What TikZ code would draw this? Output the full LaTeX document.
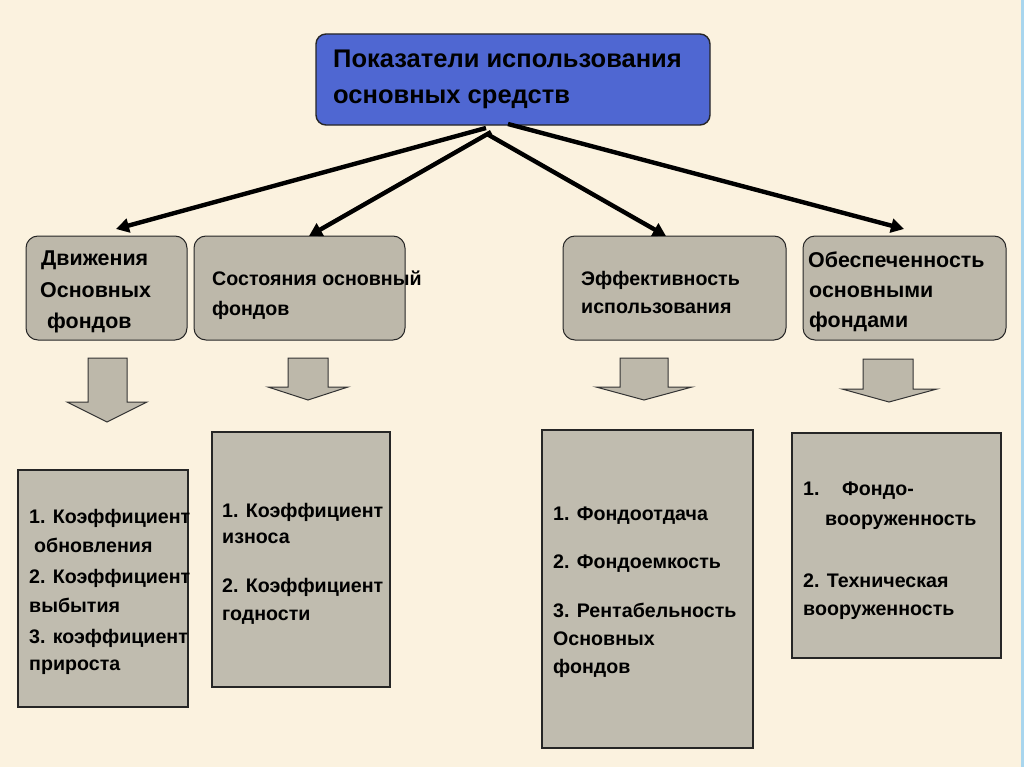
\documentclass[tikz,border=0pt]{standalone}
\usepackage{fontspec}
\setmainfont{Liberation Sans}
\usetikzlibrary{arrows.meta}
\definecolor{bgc}{HTML}{FBF2DF}
\definecolor{topblue}{HTML}{4F67D2}
\definecolor{boxgray}{HTML}{BDB8AA}
\definecolor{lowgray}{HTML}{C0BCAF}
\definecolor{edgeblue}{HTML}{A9D6EE}
\tikzset{
  rbox/.style={draw=black!85, line width=1bp, rounded corners=12bp, fill=boxgray},
  lbox/.style={draw=black!85, line width=1.4bp, fill=lowgray},
  tbox/.style={draw=black!85, line width=1.4bp, rounded corners=10bp, fill=topblue},
  conn/.style={line width=4.4bp, black, -{Triangle[length=13bp,width=14bp]}},
  blockarrow/.style={draw=black!80, line width=1bp, fill=boxgray},
  t/.style={anchor=base west, inner sep=0pt, font=\fontsize{19.7}{22}\selectfont\bfseries},
  tm/.style={anchor=base west, inner sep=0pt, font=\fontsize{21.5}{24}\selectfont\bfseries},
  tt/.style={anchor=base west, inner sep=0pt, font=\fontsize{25.6}{28}\selectfont\bfseries}
}
\begin{document}
\begin{tikzpicture}[x=1bp,y=-1bp]
\fill[bgc] (0,0) rectangle (1024,767);
\fill[edgeblue] (1021,0) rectangle (1024,767);
\useasboundingbox (0,0) rectangle (1024,767);

% top box
\draw[tbox] (316,34) rectangle (710,125);
\node[tt] (tl1) at (333,68) {Показатели использования};
\node[tt] (tl2) at (333,103) {основных средств};

% second row boxes
\draw[rbox] (26,236) rectangle (187,340);
\draw[rbox] (194,236) rectangle (405,340);
\draw[rbox] (563,236) rectangle (786,340);
\draw[rbox] (803,236) rectangle (1006,340);

\node[tm] (d1) at (41,265) {Движения};
\node[tm] (d2) at (40,297) {Основных};
\node[tm] (d3) at (47,328) {фондов};
\node[t] (s1) at (212,285) {Состояния основный};
\node[t] (s2) at (212,315) {фондов};
\node[t] (e1) at (581,285) {Эффективность};
\node[t] (e2) at (581,313) {использования};
\node[tm] (o1) at (808,267) {Обеспеченность};
\node[tm] (o2) at (809,297) {основными};
\node[tm] (o3) at (809,327) {фондами};

% connectors
\coordinate (h1) at (486,128);
\coordinate (h2) at (491,132);
\coordinate (h3) at (487,134);
\coordinate (h4) at (508,124);
\coordinate (p1) at (116,229);
\coordinate (p2) at (309,236);
\coordinate (p3) at (666,236);
\coordinate (p4) at (904,229);
\draw[conn] (h1) -- (p1);
\draw[conn] (h2) -- (p2);
\draw[conn] (h3) -- (p3);
\draw[conn] (h4) -- (p4);

% block arrows
\draw[blockarrow] (88,358) -- (127,358) -- (127,402) -- (147,402) -- (107,422) -- (67,402) -- (88,402) -- cycle;
\draw[blockarrow] (288,358) -- (328,358) -- (328,387) -- (348,387) -- (308,400) -- (268,387) -- (288,387) -- cycle;
\draw[blockarrow] (620,358) -- (668,358) -- (668,387) -- (692,387) -- (644,400) -- (596,387) -- (620,387) -- cycle;
\draw[blockarrow] (863,359) -- (913,359) -- (913,389) -- (937,389) -- (889,402) -- (842,389) -- (863,389) -- cycle;

% bottom boxes
\draw[lbox] (18,470) rectangle (188,707);
\draw[lbox] (212,432) rectangle (390,687);
\draw[lbox] (542,430) rectangle (753,748);
\draw[lbox] (792,433) rectangle (1001,658);

\node[t] (k11) at (29,523) {1. Коэффициент};
\node[t] (k12) at (34,552) {обновления};
\node[t] (k13) at (29,583) {2. Коэффициент};
\node[t] (k14) at (29,612) {выбытия};
\node[t] (k15) at (29,643) {3. коэффициент};
\node[t] (k16) at (29,670) {прироста};

\node[t] (k21) at (222,517) {1. Коэффициент};
\node[t] (k22) at (222,543) {износа};
\node[t] (k23) at (222,592) {2. Коэффициент};
\node[t] (k24) at (222,620) {годности};

\node[t] (f1) at (553,520) {1. Фондоотдача};
\node[t] (f2) at (553,568) {2. Фондоемкость};
\node[t] (f3) at (553,617) {3. Рентабельность};
\node[t] (f4) at (553,645) {Основных};
\node[t] (f5) at (553,673) {фондов};

\node[t] (v1) at (803,495) {1.};
\node[t] (v1b) at (842,495) {Фондо-};
\node[t] (v2) at (825,525) {вооруженность};
\node[t] (v3) at (803,587) {2. Техническая};
\node[t] (v4) at (803,615) {вооруженность};
\end{tikzpicture}
\end{document}
